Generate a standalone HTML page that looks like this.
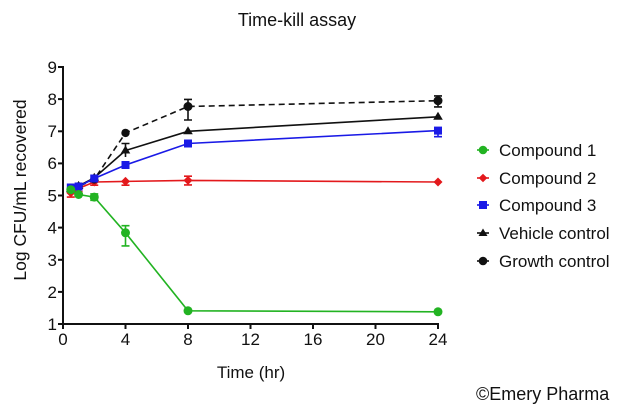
<!DOCTYPE html>
<html><head><meta charset="utf-8"><style>
html,body{margin:0;padding:0;background:#fff;}
svg{display:block;font-family:"Liberation Sans",Arial,sans-serif;}
</style></head><body>
<svg width="624" height="412" viewBox="0 0 624 412" xmlns="http://www.w3.org/2000/svg">
<rect width="624" height="412" fill="#fff"/>
<text x="297" y="26" font-size="18" text-anchor="middle" fill="#111">Time-kill assay</text>
<!-- axes -->
<g stroke="#111" stroke-width="2" fill="none">
<line x1="63" y1="66" x2="63" y2="325"/>
<line x1="62" y1="324" x2="439" y2="324"/>
<line x1="58" y1="67" x2="63" y2="67"/>
<line x1="58" y1="99.1" x2="63" y2="99.1"/>
<line x1="58" y1="131.3" x2="63" y2="131.3"/>
<line x1="58" y1="163.4" x2="63" y2="163.4"/>
<line x1="58" y1="195.5" x2="63" y2="195.5"/>
<line x1="58" y1="227.6" x2="63" y2="227.6"/>
<line x1="58" y1="259.8" x2="63" y2="259.8"/>
<line x1="58" y1="291.9" x2="63" y2="291.9"/>
<line x1="58" y1="324" x2="63" y2="324"/>
<line x1="63" y1="324" x2="63" y2="329"/>
<line x1="125.5" y1="324" x2="125.5" y2="329"/>
<line x1="188" y1="324" x2="188" y2="329"/>
<line x1="250.5" y1="324" x2="250.5" y2="329"/>
<line x1="313" y1="324" x2="313" y2="329"/>
<line x1="375.5" y1="324" x2="375.5" y2="329"/>
<line x1="438" y1="324" x2="438" y2="329"/>
</g>
<g font-size="17" fill="#111" text-anchor="end">
<text x="57" y="73">9</text>
<text x="57" y="105">8</text>
<text x="57" y="137">7</text>
<text x="57" y="169">6</text>
<text x="57" y="201.5">5</text>
<text x="57" y="233.5">4</text>
<text x="57" y="266">3</text>
<text x="57" y="298">2</text>
<text x="57" y="330">1</text>
</g>
<g font-size="17" fill="#111" text-anchor="middle">
<text x="63" y="345">0</text>
<text x="125.5" y="345">4</text>
<text x="188" y="345">8</text>
<text x="250.5" y="345">12</text>
<text x="313" y="345">16</text>
<text x="375.5" y="345">20</text>
<text x="438" y="345">24</text>
<text x="251" y="378">Time (hr)</text>
</g>
<text transform="translate(26,190) rotate(-90)" font-size="17.5" fill="#111" text-anchor="middle">Log CFU/mL recovered</text>

<!-- Compound 2 red -->
<g stroke="#e3191c" fill="#e3191c" stroke-width="1.6">
<polyline fill="none" points="70.8,192.9 78.6,188.4 94.25,182 125.5,181.4 188,180.4 438,182"/>
<path fill="none" d="M70.8,189.1V197.1M66.8,197.1H74.8M78.6,185.2V191.6M74.6,191.6H82.6M94.25,178.8V185.2M90.25,185.2H98.25M125.5,177.5V185.2M121.5,185.2H129.5M188,176.2V184.9M184,184.9H192M184,176.2H192"/>
<g stroke="none">
<path d="M70.8,188.4l4.5,4.5l-4.5,4.5l-4.5,-4.5z"/>
<path d="M78.6,183.9l4.5,4.5l-4.5,4.5l-4.5,-4.5z"/>
<path d="M94.25,177.5l4.5,4.5l-4.5,4.5l-4.5,-4.5z"/>
<path d="M125.5,176.9l4.5,4.5l-4.5,4.5l-4.5,-4.5z"/>
<path d="M188,175.9l4.5,4.5l-4.5,4.5l-4.5,-4.5z"/>
<path d="M438,177.5l4.5,4.5l-4.5,4.5l-4.5,-4.5z"/>
</g>
</g>

<!-- Growth control dashed -->
<g stroke="#111" fill="#111" stroke-width="1.6">
<polyline fill="none" stroke-dasharray="6,4" points="70.8,189.1 78.6,186.5 94.25,179.4 125.5,132.9 188,106.5 438,100.7"/>
<path fill="none" d="M188,99.4V120M184,99.4H192M184,120H192M438,95.9V106.9M434,95.9H442M434,106.9H442"/>
<g stroke="none">
<circle cx="70.8" cy="189.1" r="4.2"/>
<circle cx="78.6" cy="186.5" r="4.2"/>
<circle cx="94.25" cy="179.4" r="4.2"/>
<circle cx="125.5" cy="132.9" r="4.2"/>
<circle cx="188" cy="106.5" r="4.5"/>
<circle cx="438" cy="100.7" r="4.5"/>
</g>
</g>

<!-- Vehicle control -->
<g stroke="#111" fill="#111" stroke-width="1.6">
<polyline fill="none" points="70.8,189.1 78.6,185.9 94.25,177.8 125.5,150.5 188,131.3 438,116.8"/>
<path fill="none" d="M125.5,143.5V157M121.5,143.5H129.5"/>
<g stroke="none">
<path d="M70.8,184.1l4.8,8h-9.6z"/>
<path d="M78.6,180.9l4.8,8h-9.6z"/>
<path d="M94.25,172.8l4.8,8h-9.6z"/>
<path d="M125.5,145.5l4.8,8h-9.6z"/>
<path d="M188,126.3l4.8,8h-9.6z"/>
<path d="M438,111.8l4.8,8h-9.6z"/>
</g>
</g>

<!-- Compound 3 blue -->
<g stroke="#1a1ae6" fill="#1a1ae6" stroke-width="1.6">
<polyline fill="none" points="70.8,187.5 78.6,186.5 94.25,178.5 125.5,165 188,143.5 438,130.6"/>
<path fill="none" d="M438,128V136.7M434,136.7H442"/>
<g stroke="none">
<rect x="66.8" y="183.5" width="8" height="8"/>
<rect x="74.6" y="182.5" width="8" height="8"/>
<rect x="90.25" y="174.5" width="8" height="8"/>
<rect x="121.5" y="161" width="8" height="8"/>
<rect x="184" y="139.5" width="8" height="8"/>
<rect x="434" y="126.6" width="8" height="8"/>
</g>
</g>

<!-- Compound 1 green -->
<g stroke="#22b322" fill="#22b322" stroke-width="1.6">
<polyline fill="none" points="70.8,189.7 78.6,194.5 94.25,197.1 125.5,232.8 188,310.8 438,311.8"/>
<path fill="none" d="M78.6,192.3V197.1M94.25,193.9V200.3M90.25,200.3H98.25M90.25,193.9H98.25M125.5,225.7V245.9M121.5,225.7H129.5M121.5,245.9H129.5"/>
<g stroke="none">
<circle cx="70.8" cy="189.7" r="4.5"/>
<circle cx="78.6" cy="194.5" r="4.5"/>
<circle cx="94.25" cy="197.1" r="4.5"/>
<circle cx="125.5" cy="232.8" r="4.5"/>
<circle cx="188" cy="310.8" r="4.5"/>
<circle cx="438" cy="311.8" r="4.5"/>
</g>
</g>

<!-- Legend -->
<g stroke-width="1.6">
<line x1="477" y1="150" x2="489" y2="150" stroke="#22b322"/>
<circle cx="483" cy="150" r="4.3" fill="#22b322"/>
<line x1="477" y1="178" x2="489" y2="178" stroke="#e3191c"/>
<path d="M483,173.7l4.3,4.3l-4.3,4.3l-4.3,-4.3z" fill="#e3191c"/>
<line x1="477" y1="205" x2="489" y2="205" stroke="#1a1ae6"/>
<rect x="479" y="201" width="8" height="8" fill="#1a1ae6"/>
<line x1="477" y1="233" x2="489" y2="233" stroke="#111"/>
<path d="M483,228.5l4.5,7.5h-9z" fill="#111"/>
<line x1="477" y1="261" x2="489" y2="261" stroke="#111"/>
<circle cx="483" cy="261" r="4.3" fill="#111"/>
</g>
<g font-size="17" fill="#111">
<text x="499" y="156">Compound 1</text>
<text x="499" y="184">Compound 2</text>
<text x="499" y="211">Compound 3</text>
<text x="499" y="239">Vehicle control</text>
<text x="499" y="267">Growth control</text>
</g>
<text x="476" y="400" font-size="18" fill="#111">©Emery Pharma</text>
</svg>
</body></html>
